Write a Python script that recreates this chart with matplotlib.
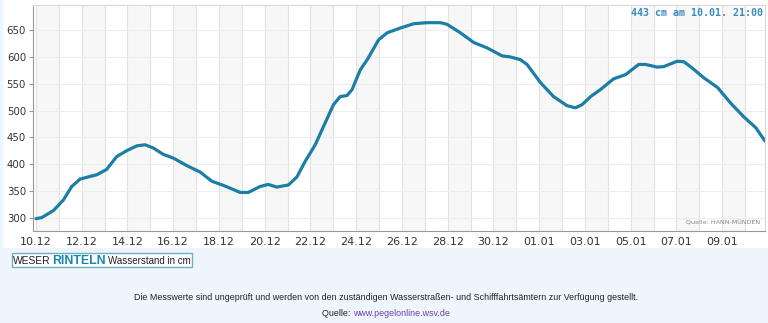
import numpy as np
import matplotlib.pyplot as plt
from matplotlib.patches import Rectangle

# days since 10.12 00:00 and water level in cm
days = [0.0, 0.25, 0.76, 1.2, 1.56, 1.93, 2.29, 2.66, 3.09, 3.53, 3.97, 4.41, 4.77,
        5.13, 5.57, 6.01, 6.6, 7.18, 7.69, 8.2, 8.49, 8.93, 9.28, 9.8, 10.15,
        10.53, 11.04, 11.41, 11.77, 12.21, 12.57, 13.01, 13.3, 13.6, 13.82, 14.18,
        14.5, 14.98, 15.35, 15.93, 16.51, 17.1, 17.68, 17.97, 18.56, 19.14, 19.72,
        20.38, 20.74, 21.18, 21.47, 22.06, 22.63, 23.22, 23.59, 23.88, 24.25, 24.68,
        25.25, 25.78, 26.35, 26.65, 27.16, 27.45, 28.04, 28.33, 28.7, 29.2, 29.8,
        30.37, 30.95, 31.47, 31.875]
level = [298, 300, 313, 333, 358, 372, 376, 380, 390, 414, 425, 434, 436,
         430, 418, 411, 397, 385, 368, 360, 355, 347, 347, 358, 362,
         357, 361, 376, 405, 436, 470, 511, 526, 528, 539, 576,
         596, 632, 645, 654, 662, 664, 664, 661, 645, 627, 617,
         602, 600, 595, 586, 552, 526, 509, 505, 511, 526, 539,
         559, 567, 586, 586, 581, 582, 592, 591, 579, 561, 543,
         514, 488, 468, 443]

tick_days = list(range(0, 31, 2))
tick_labels = ['10.12', '12.12', '14.12', '16.12', '18.12', '20.12', '22.12', '24.12',
               '26.12', '28.12', '30.12', '01.01', '03.01', '05.01', '07.01', '09.01']
y_ticks = [300, 350, 400, 450, 500, 550, 600, 650]

W, H = 768, 323
fig = plt.figure(figsize=(W / 100, H / 100), dpi=100)
fig.patch.set_facecolor('#eef5fc')

# white panel behind the chart
bg = fig.add_axes([0.004, 1 - 248 / H, 0.996, 248 / H], zorder=-10)
bg.set_facecolor('white')
bg.set_xticks([])
bg.set_yticks([])
for s in bg.spines.values():
    s.set_visible(False)

ax = fig.add_axes([33 / W, 1 - 231 / H, (765 - 33) / W, (231 - 5) / H])
ax.set_facecolor('white')

# alternating day bands
for d in range(0, 32, 2):
    ax.axvspan(d, d + 1, color='#f7f7f7', lw=0, zorder=0)
for d in range(0, 33):
    ax.axvline(d, color='#e2e2e2', lw=0.8, zorder=1)
for v in y_ticks:
    ax.axhline(v, color='#ededed', lw=0.8, zorder=1)

ax.plot(days, level, color='#1c7ea6', lw=2.3, zorder=3,
        solid_capstyle='round', solid_joinstyle='round')

ax.set_xlim(-0.13, 31.875)
ax.set_ylim(275, 697)
ax.set_xticks(tick_days)
ax.set_xticklabels(tick_labels)
ax.set_yticks(y_ticks)
ax.tick_params(axis='x', length=0, pad=4, labelsize=8, labelcolor='#333333')
ax.tick_params(axis='y', length=3, width=0.8, color='#999999', pad=2,
               labelsize=7.3, labelcolor='#333333')
for s in ['top', 'right']:
    ax.spines[s].set_color('#d8d8d8')
for s in ['left', 'bottom']:
    ax.spines[s].set_color('#999999')

ax.text(0.997, 0.985, '443 cm am 10.01. 21:00', transform=ax.transAxes,
        ha='right', va='top', family='DejaVu Sans Mono', fontweight='bold',
        fontsize=7.2, color='#3a8cbc')
ax.text(0.993, 0.025, 'Quelle: HANN-MÜNDEN', transform=ax.transAxes,
        ha='right', va='bottom', fontsize=4.6, color='#888888')

# title box
fig.patches.append(Rectangle((11.5 / W, 1 - 267 / H), 180 / W, 14.5 / H,
                             transform=fig.transFigure, facecolor='white',
                             edgecolor='#6fb0c0', lw=1.0, zorder=1))
fy = 1 - 263.5 / H
fig.text(13 / W, fy, 'WESER', family='Liberation Sans', fontsize=7.4, color='#222222')
fig.text(52.5 / W, fy, 'RINTELN', family='Liberation Sans', fontsize=8.8,
         fontweight='bold', color='#1a86b0')
fig.text(107.5 / W, fy, 'Wasserstand in cm', family='Liberation Sans', fontsize=7.0,
         color='#222222')

fig.text(386 / W, 1 - 298 / H, 'Die Messwerte sind ungeprüft und werden von den zuständigen '
         'Wasserstraßen- und Schifffahrtsämtern zur Verfügung gestellt.',
         family='Liberation Sans', fontsize=6.4, color='#222222', ha='center', va='center')
fig.text(322 / W, 1 - 313 / H, 'Quelle: ', family='Liberation Sans', fontsize=6.4,
         color='#222222', ha='left', va='center')
fig.text(353 / W, 1 - 313 / H, 'www.pegelonline.wsv.de', family='Liberation Sans',
         fontsize=6.4, color='#7040a8', ha='left', va='center')

fig.savefig('out.png', dpi=100, facecolor=fig.get_facecolor())
